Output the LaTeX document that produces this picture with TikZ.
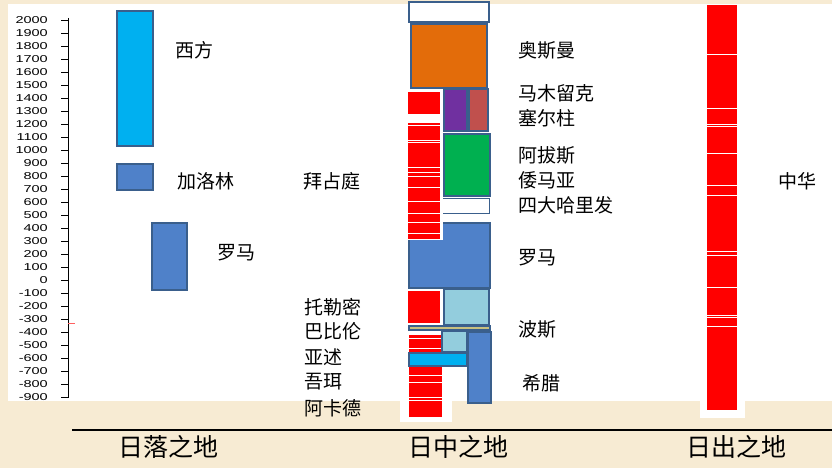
\documentclass[tikz,border=0pt]{standalone}
\usepackage{fontspec}
\setmainfont{Liberation Sans}
\newfontfamily\cjk{Noto Sans CJK SC}
\definecolor{bgc}{HTML}{F7EBD3}
\definecolor{bord}{HTML}{3A5F8C}
\definecolor{cyanb}{HTML}{00B0F0}
\definecolor{midb}{HTML}{4F81C9}
\definecolor{orng}{HTML}{E36C0A}
\definecolor{purp}{HTML}{7030A0}
\definecolor{rose}{HTML}{C0504D}
\definecolor{grn}{HTML}{00B050}
\definecolor{lblue}{HTML}{93CDDD}
\definecolor{khaki}{HTML}{C8C080}
\tikzset{
  box/.style={draw=bord, line width=2.5pt},
  redbar/.style={fill=red},
  gap/.style={draw=white, line width=0.9pt},
  lab/.style={font=\cjk\fontsize{19}{19}\selectfont, anchor=west, inner sep=0pt},
  bot/.style={font=\cjk\fontsize{25}{25}\selectfont, inner sep=0pt},
  num/.style={font=\fontsize{10}{10}\selectfont, anchor=east, inner sep=0pt}
}
\begin{document}
\begin{tikzpicture}[x=1pt,y=-1pt]
\useasboundingbox (0,0) rectangle (832,468);
\fill[bgc] (0,0) rectangle (832,468);
\fill[white] (8,4) rectangle (832,401);
\fill[white] (400,395) rectangle (452,422);
\fill[white] (700,395) rectangle (745,418);

% axis
\draw[line width=1pt] (68,18) -- (68,398);
\foreach \i in {0,...,29} {
  \pgfmathsetmacro{\yy}{20+13*\i}
  \pgfmathtruncatemacro{\vv}{2000-100*\i}
  \draw[line width=0.8pt] (61,\yy) -- (68,\yy);
  \node[num] (n\i) at (48,\yy) {\scalebox{1.45}[1]{\vv}};
}
\draw[red!50!pink, line width=1pt] (68,323) -- (75,323);

% left column
\draw[box, fill=cyanb] (117,11) rectangle (153,146);
\draw[box, fill=midb] (117,164) rectangle (153,190);
\draw[box, fill=midb] (152,223) rectangle (187,290);

% middle column
\draw[box, fill=white] (409,2) rectangle (489,22);
\draw[box, fill=orng] (411,24) rectangle (487,88);
\fill[redbar] (408,92) rectangle (440,114);
\draw[box, fill=purp] (444,89) rectangle (467,131);
\draw[box, fill=rose] (469,89) rectangle (488,131);
\draw[box, fill=grn] (444,134) rectangle (490,196);
\draw[draw=bord, line width=1pt, fill=white] (442,198) rectangle (489,213);
\draw[box, fill=midb] (409,223) rectangle (490,288);
\fill[white] (404,118) rectangle (443,240);
\fill[redbar] (408,123) rectangle (440,239);
\foreach \y in {125,140,142,167,172,176,187,201,213,222,233}
  \draw[gap] (408,\y) -- (440,\y);

\fill[redbar] (408,291) rectangle (440,323);
\draw[box, fill=lblue] (444,289) rectangle (489,325);
\draw[draw=bord, line width=1.5pt, fill=khaki] (409,326) rectangle (490,330);
\fill[white] (405,332) rectangle (443,421);
\fill[redbar] (409,335) rectangle (442,417);
\foreach \y in {338,348,375,382,397,400}
  \draw[gap] (409,\y) -- (442,\y);
\draw[draw=bord, line width=1.5pt, fill=lblue] (442,331) rectangle (467,352);
\draw[box, fill=cyanb] (409,353) rectangle (467,366);
\draw[box, fill=midb] (468,332) rectangle (491,403);

% right column
\fill[redbar] (707,5) rectangle (737,410);
\foreach \y in {54,108,124,126,153,185,195,251,255,287,315,317,326}
  \draw[gap] (707,\y) -- (737,\y);

% labels
\node[lab] (xifang) at (175,50) {西方};
\node[lab] (jialuolin) at (177,181) {加洛林};
\node[lab] (luomaL) at (217,253) {罗马};
\node[lab] (baizhanting) at (303,181) {拜占庭};
\node[lab] (aosiman) at (518,50) {奥斯曼};
\node[lab] (mamuliuke) at (518,93) {马木留克};
\node[lab] (saierzhu) at (518,118) {塞尔柱};
\node[lab] (abasi) at (518,155) {阿拔斯};
\node[lab] (woumaya) at (518,180) {倭马亚};
\node[lab] (sida) at (518,205) {四大哈里发};
\node[lab] (luomaM) at (518,258) {罗马};
\node[lab] (bosi) at (518,329) {波斯};
\node[lab] (xila) at (522,383) {希腊};
\node[lab] (tuolemi) at (304,307) {托勒密};
\node[lab] (babilun) at (304,331) {巴比伦};
\node[lab] (yashu) at (304,357) {亚述};
\node[lab] (wuer) at (304,382) {吾珥};
\node[lab] (akade) at (304,408) {阿卡德};
\node[lab] (zhonghua) at (778,181) {中华};

% bottom
\draw[line width=2pt] (72,430) -- (832,430);
\node[bot] (riluo) at (168,447) {日落之地};
\node[bot] (rizhong) at (458,447) {日中之地};
\node[bot] (richu) at (736,447) {日出之地};
\end{tikzpicture}
\end{document}
